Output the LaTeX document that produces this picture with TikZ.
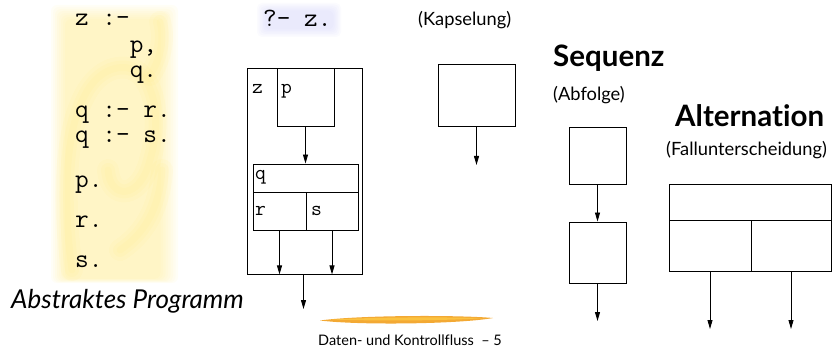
\documentclass[tikz,border=0pt]{standalone}
\usepackage{fontspec}
\setmainfont{Lato}[Ligatures={NoCommon}]
\usetikzlibrary{arrows.meta}

\definecolor{hazeY}{RGB}{255,228,100}
\definecolor{hazeB}{RGB}{200,200,248}
\definecolor{brush}{RGB}{242,160,30}
\definecolor{brushlight}{RGB}{255,205,70}

\tikzset{
  box/.style={draw, line width=0.9pt, inner sep=0pt, fill=none},
  flow/.style={-{Triangle[length=9pt,width=5pt]}, line width=0.9pt},
  code/.style={font=\ttfamily\fontsize{26.5}{26.5}\selectfont, anchor=base west, inner sep=0pt},
  lbl/.style={font=\ttfamily\fontsize{21}{21}\selectfont, anchor=base west, inner sep=0pt},
  title/.style={font=\bfseries\fontsize{29.5}{29.5}\selectfont, anchor=base west, inner sep=0pt},
  note/.style={font=\fontsize{18.3}{18.3}\selectfont, anchor=west, inner sep=0pt},
  swirl/.style={draw=hazeY, opacity=0.07, line cap=round},
}

\begin{document}
\begin{tikzpicture}[x=1pt, y=-1pt]
\useasboundingbox (0,0) rectangle (834,347);

% soft yellow backdrop behind the program text
\foreach \i in {0,...,7}
  \fill[hazeY, opacity=0.055, rounded corners=6pt]
    ({51+\i*2},{5+\i*2}) rectangle ({178-\i*2.5},{283-\i*0.6});
% brush swirls inside the backdrop
\foreach \w in {22,14,7}{
  \draw[swirl, line width=\w pt] (72,270) .. controls (62,200) and (62,90) .. (110,70)
     .. controls (150,55) and (165,110) .. (150,160)
     .. controls (140,200) and (110,200) .. (108,170);
  \draw[swirl, line width=\w pt] (120,250) .. controls (150,230) and (160,200) .. (162,170);
  \draw[swirl, line width=\w pt] (160,22) .. controls (165,40) and (160,60) .. (150,75);
}

% soft blue backdrop behind the query
\foreach \i in {0,...,5}
  \fill[hazeB, opacity=0.08, rounded corners=5pt]
    ({257+\i*1.5},{3+\i*1.5}) rectangle ({341-\i*1.5},{37-\i*1.5});

% program clauses
\node[code] (c1) at (75,26)  {z :-};
\node[code] (c2) at (75,53)  {\ \ \ \ p,};
\node[code] (c3) at (75,78)  {\ \ \ \ q.};
\node[code] (c4) at (75,118) {q :- r.};
\node[code] (c5) at (75,143) {q :- s.};
\node[code] (c6) at (75,188) {p.};
\node[code] (c7) at (75,227) {r.};
\node[code] (c8) at (75,267) {s.};

\node[font=\itshape\fontsize{26}{26}\selectfont, anchor=base west, inner sep=0pt]
  (abs) at (11,308) {Abstraktes Programm};

% query
\node[code] (query) at (263,27) {?- z.};

% encapsulated call structure of z
\node[box, minimum width=115pt, minimum height=206pt] (zbox) at (304.5,171) {};
\node[box, minimum width=57pt, minimum height=58pt] (pbox) at (305.5,97) {};
\node[box, minimum width=105pt, minimum height=28pt] (qrow) at (305.5,178) {};
\node[box, minimum width=53pt, minimum height=38pt] (rcell) at (279.5,211) {};
\node[box, minimum width=52pt, minimum height=38pt] (scell) at (332,211) {};

\node[lbl] (zl) at (252,94)  {z};
\node[lbl] (pl) at (281,94)  {p};
\node[lbl] (ql) at (255,180) {q};
\node[lbl] (rl) at (255,215) {r};
\node[lbl] (sl) at (311,215) {s};

\draw[flow] (pbox.south) -- (pbox.south |- qrow.north);
\draw[flow] (rcell.south) -- (rcell.south |- zbox.south);
\draw[flow] (scell.south) -- (scell.south |- zbox.south);
\coordinate (zout) at (303.5,309);
\draw[flow] (zbox.south -| zout) -- (zout);

% Kapselung
\node[note] (kap) at (418,20) {(Kapselung)};
\node[box, minimum width=77pt, minimum height=62pt] (kbox) at (476.5,95) {};
\coordinate (kout) at (476.5,165);
\draw[flow] (kbox.south) -- (kout);

% Sequenz
\node[title] (seq) at (553,67) {Sequenz};
\node[note] (abf) at (553,95) {(Abfolge)};
\node[box, minimum width=57pt, minimum height=57pt] (s1) at (597.5,155.5) {};
\node[box, minimum width=57pt, minimum height=61pt] (s2) at (597.5,252.5) {};
\draw[flow] (s1.south) -- (s2.north);
\coordinate (sout) at (597.5,321);
\draw[flow] (s2.south) -- (sout);

% Alternation
\node[title] (alt) at (675,127) {Alternation};
\node[note] (fall) at (666,150) {(Fallunterscheidung)};
\node[box, minimum width=162pt, minimum height=36pt] (atop) at (750,202) {};
\node[box, minimum width=82pt, minimum height=51pt] (aleft) at (710,245.5) {};
\node[box, minimum width=80pt, minimum height=51pt] (aright) at (791,245.5) {};
\coordinate (aout1) at (710,329);
\coordinate (aout2) at (791,329);
\draw[flow] (aleft.south) -- (aout1);
\draw[flow] (aright.south) -- (aout2);

% footer with brush stroke
\fill[brush, opacity=0.9] (320,320.5) .. controls (360,315) and (460,315) .. (493,318)
  .. controls (460,324) and (360,325.5) .. (320,320.5) -- cycle;
\fill[brushlight, opacity=0.7] (332,319.5) .. controls (380,317) and (450,317) .. (482,318.2)
  .. controls (450,320.5) and (380,321.2) .. (332,319.5) -- cycle;
\node[font=\fontsize{14.5}{14.5}\selectfont, inner sep=0pt] (foot) at (410,340)
  {Daten- und Kontrollfluss ~--~5};

\end{tikzpicture}
\end{document}
